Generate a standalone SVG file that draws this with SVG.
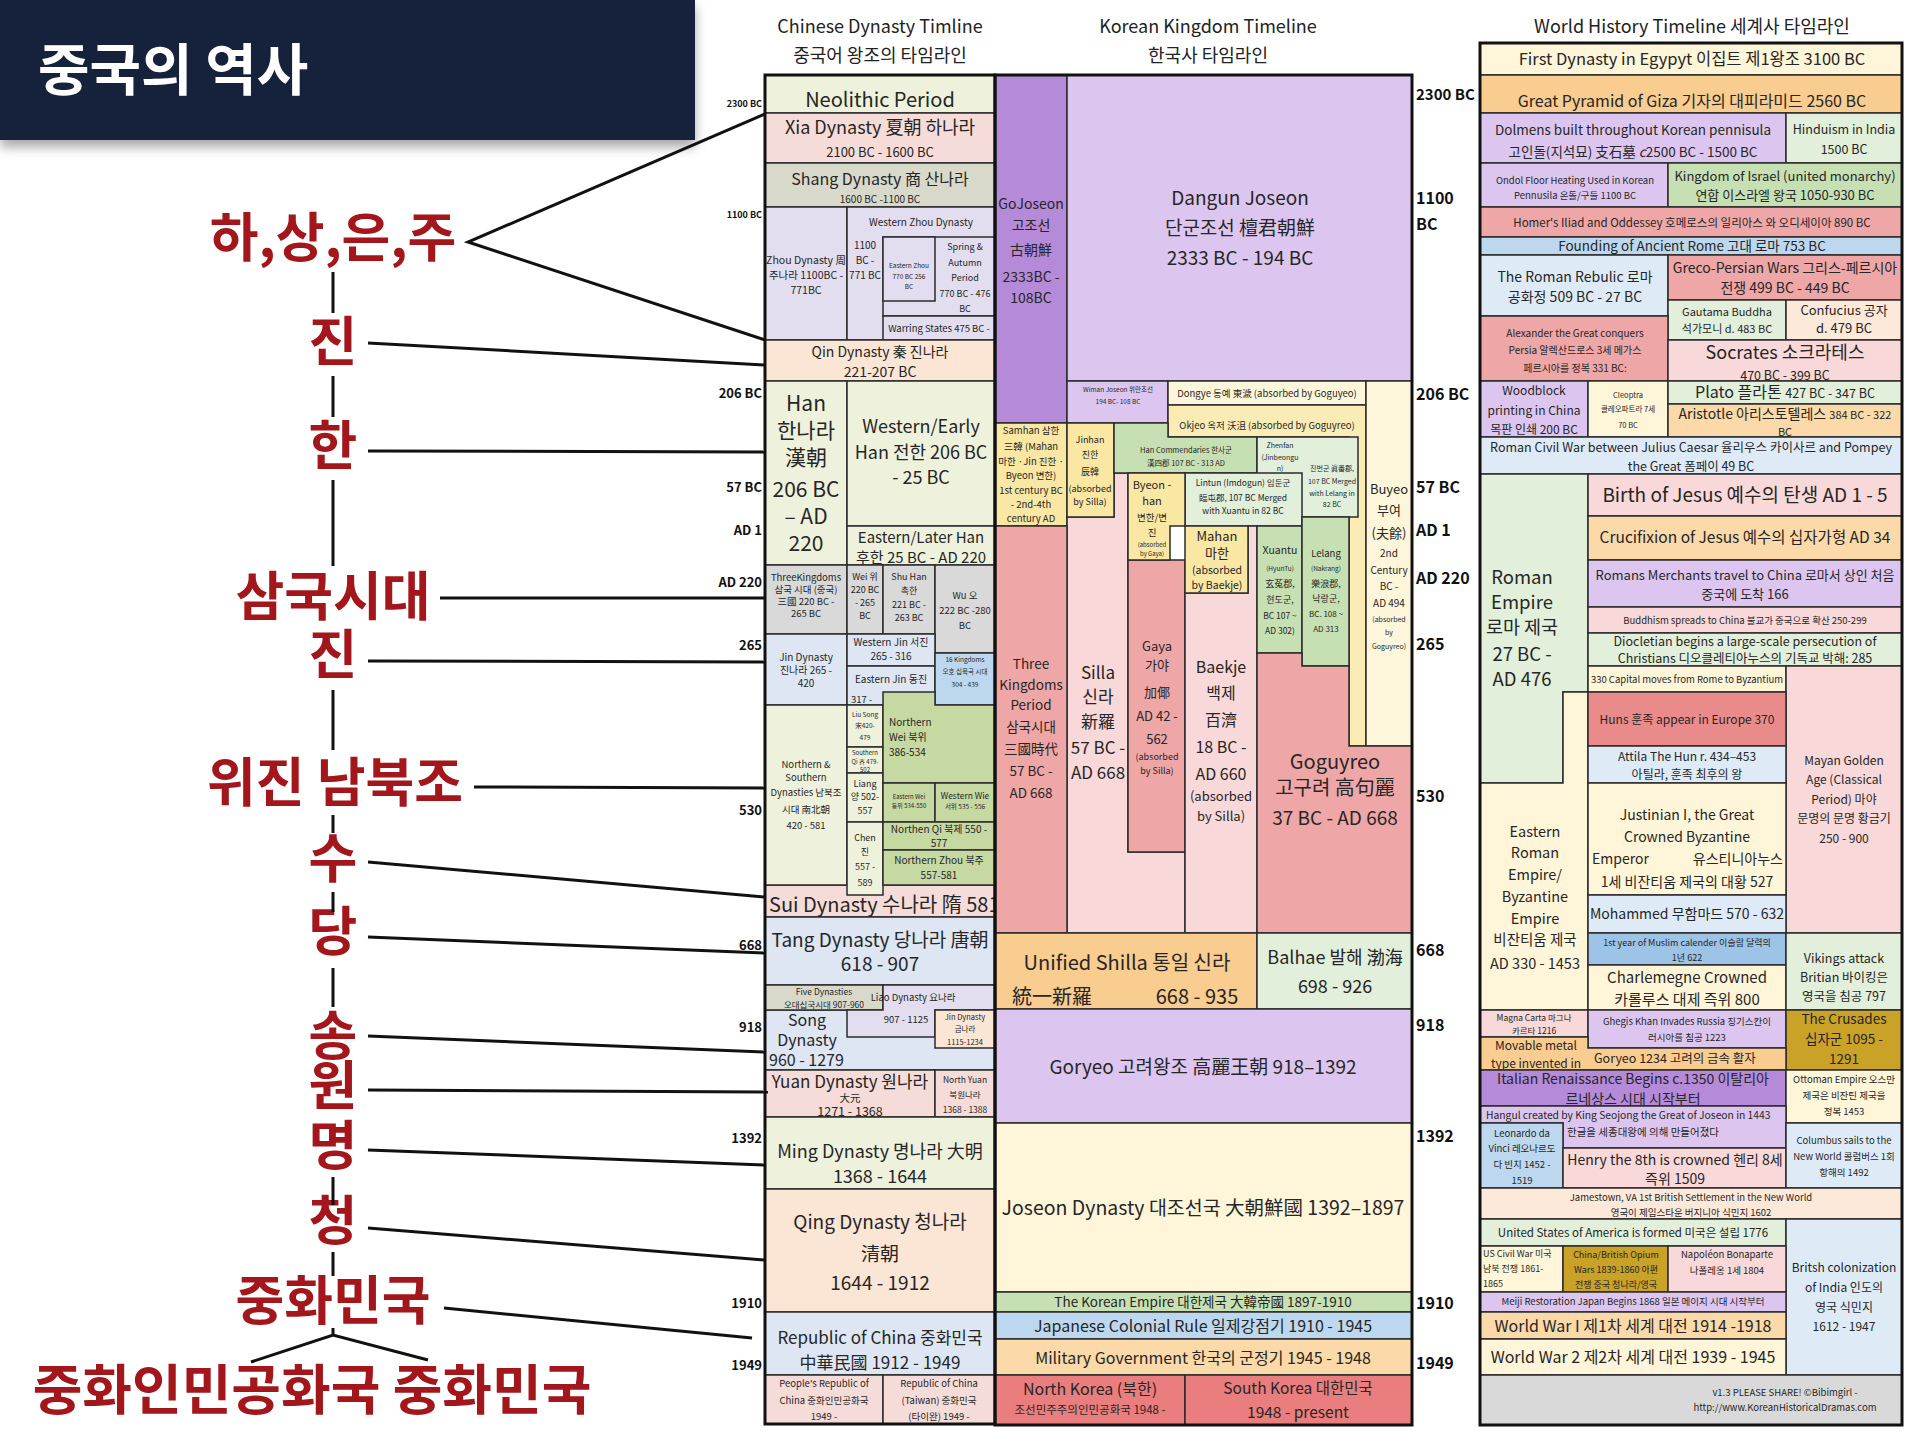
<svg xmlns="http://www.w3.org/2000/svg" width="1920" height="1442" viewBox="0 0 1920 1442">
<defs>
<filter id="sh" x="-5%" y="-20%" width="110%" height="160%"><feDropShadow dx="0" dy="7" stdDeviation="6" flood-color="#000" flood-opacity="0.35"/></filter>
</defs>
<style>
text{font-family:"Noto Sans CJK KR","Noto Sans",sans-serif;text-anchor:middle;fill:#262626}
.s{stroke:#2b2b2b;stroke-width:1.5}
.o{fill:none;stroke:#111;stroke-width:3}
.lab{font-weight:700;font-size:53px;fill:#a3161b}
.yl{font-weight:700;font-size:13px;fill:#111;text-anchor:end}
.yr{font-weight:700;font-size:16px;fill:#111;text-anchor:start}
.hd{font-size:18px;fill:#222}
.cn line,.cn polyline{stroke:#111;stroke-width:3;fill:none}
.st{text-anchor:start}
.en{text-anchor:end}
.gn{fill:#eef2dc}.pk{fill:#f5dcd8}.gb{fill:#d9d9cb}.lv{fill:#e2def0}.pc{fill:#fbe5d5}
.gy{fill:#d9d9d9}.lb{fill:#dde6f2}.bl{fill:#bdd7ee}.ol{fill:#c6d9a3}.pu{fill:#b48ad9}
.lp{fill:#dcc6ef}.cr{fill:#fef6da}.ye{fill:#f9e7a3}.g2{fill:#c6e0b4}.g3{fill:#e2efda}
.sa{fill:#eea6a6}.pp{fill:#f8d8d8}.or{fill:#f9cc8f}.jo{fill:#fff5d8}.mi{fill:#fbd9a8}
.rd{fill:#ea7d7d}.sk{fill:#deebf7}.pe{fill:#fde9d9}.go{fill:#c9a227}.mb{fill:#9dc3e6}.hu{fill:#ea8b8b}.ye2{fill:#fbecb5}
</style>
<rect width="1920" height="1442" fill="#fff"/>

<!-- Title -->
<g id="title">
<rect x="0" y="0" width="695" height="140" fill="#17223a" filter="url(#sh)"/>
<text x="38" y="90" class="st" style="font-size:56px;font-weight:700;fill:#fff">중국의 역사</text>
</g>

<!-- Left labels -->
<g id="labels">
<text class="lab" x="333" y="257">하,상,은,주</text>
<text class="lab" x="333" y="361">진</text>
<text class="lab" x="333" y="465">한</text>
<text class="lab" x="333" y="616">삼국시대</text>
<text class="lab" x="333" y="674">진</text>
<text class="lab" x="335" y="802">위진 남북조</text>
<text class="lab" x="333" y="878">수</text>
<text class="lab" x="333" y="951">당</text>
<text class="lab" x="333" y="1055">송</text>
<text class="lab" x="333" y="1105">원</text>
<text class="lab" x="333" y="1165">명</text>
<text class="lab" x="333" y="1240">청</text>
<text class="lab" x="333" y="1320">중화민국</text>
<text class="lab" x="312" y="1410" style="font-size:54px">중화인민공화국 중화민국</text>
</g>

<!-- Column headers -->
<g id="headers">
<text class="hd" x="880" y="33">Chinese Dynasty Timline</text>
<text class="hd" x="880" y="62">중국어 왕조의 타임라인</text>
<text class="hd" x="1208" y="33">Korean Kingdom Timeline</text>
<text class="hd" x="1208" y="62">한국사 타임라인</text>
<text class="hd" x="1692" y="33">World History Timeline 세계사 타임라인</text>
</g>

<!-- Year labels -->
<g id="years-left">
<text class="yl" x="762" y="107" style="font-size:9px">2300 BC</text>
<text class="yl" x="762" y="218" style="font-size:9px">1100 BC</text>
<text class="yl" x="762" y="398">206 BC</text>
<text class="yl" x="762" y="492">57 BC</text>
<text class="yl" x="762" y="535">AD 1</text>
<text class="yl" x="762" y="587">AD 220</text>
<text class="yl" x="762" y="650">265</text>
<text class="yl" x="762" y="815">530</text>
<text class="yl" x="762" y="950">668</text>
<text class="yl" x="762" y="1032">918</text>
<text class="yl" x="762" y="1143">1392</text>
<text class="yl" x="762" y="1308">1910</text>
<text class="yl" x="762" y="1370">1949</text>
</g>
<g id="years-right">
<text class="yr" x="1416" y="100" style="font-size:15px">2300 BC</text>
<text class="yr" x="1416" y="204">1100</text>
<text class="yr" x="1416" y="230">BC</text>
<text class="yr" x="1416" y="400">206 BC</text>
<text class="yr" x="1416" y="493">57 BC</text>
<text class="yr" x="1416" y="536">AD 1</text>
<text class="yr" x="1416" y="584">AD 220</text>
<text class="yr" x="1416" y="650">265</text>
<text class="yr" x="1416" y="802">530</text>
<text class="yr" x="1416" y="956">668</text>
<text class="yr" x="1416" y="1031">918</text>
<text class="yr" x="1416" y="1142">1392</text>
<text class="yr" x="1416" y="1309">1910</text>
<text class="yr" x="1416" y="1369">1949</text>
</g>

<!-- ============ CHINESE COLUMN ============ -->
<g id="neolithic"><rect class="s gn" x="765" y="75" width="230" height="38"/><text x="880" y="107" font-size="20">Neolithic Period</text></g>
<g id="xia"><rect class="s pk" x="765" y="113" width="230" height="50"/><text x="880" y="134" font-size="18">Xia Dynasty 夏朝 하나라</text><text x="880" y="157" font-size="13">2100 BC - 1600 BC</text></g>
<g id="shang"><rect class="s gb" x="765" y="163" width="230" height="44"/><text x="880" y="185" font-size="16">Shang Dynasty 商 산나라</text><text x="880" y="203" font-size="10">1600 BC -1100 BC</text></g>
<g id="zhou">
<rect class="s lv" x="765" y="207" width="82" height="133"/>
<rect class="s lv" x="847" y="207" width="148" height="133"/>
<rect class="s lv" x="883" y="237" width="112" height="79"/>
<rect class="s lv" x="883" y="237" width="52" height="64"/>
<rect class="s lv" x="883" y="316" width="112" height="24"/>
<g font-size="10.5"><text x="806" y="264">Zhou Dynasty 周</text><text x="806" y="279">주나라 1100BC -</text><text x="806" y="294">771BC</text></g>
<text x="921" y="226" font-size="10">Western Zhou Dynasty</text>
<g font-size="10"><text x="865" y="249">1100</text><text x="865" y="264">BC -</text><text x="865" y="279">771 BC</text></g>
<g font-size="6.5"><text x="909" y="268">Eastern Zhou</text><text x="909" y="279">770 BC 256</text><text x="909" y="289">BC</text></g>
<g font-size="9"><text x="965" y="250">Spring &amp;</text><text x="965" y="266">Autumn</text><text x="965" y="281">Period</text><text x="965" y="297">770 BC - 476</text><text x="965" y="312">BC</text></g>
<text x="939" y="332" font-size="9.5">Warring States  475 BC -</text>
</g>
<g id="qin"><rect class="s pc" x="765" y="340" width="230" height="41"/><text x="880" y="357" font-size="14">Qin Dynasty 秦 진나라</text><text x="880" y="377" font-size="14">221-207 BC</text></g>
<g id="han">
<rect class="s gn" x="765" y="381" width="82" height="184"/>
<rect class="s gn" x="847" y="381" width="148" height="145"/>
<rect class="s gn" x="847" y="526" width="148" height="39"/>
<g font-size="21"><text x="806" y="411">Han</text><text x="806" y="438">한나라</text><text x="806" y="465">漢朝</text><text x="806" y="497">206 BC</text><text x="806" y="524">– AD</text><text x="806" y="551">220</text></g>
<g font-size="18"><text x="921" y="433">Western/Early</text><text x="921" y="459">Han 전한 206 BC</text><text x="921" y="484">- 25 BC</text></g>
<g font-size="15"><text x="921" y="543">Eastern/Later Han</text><text x="921" y="563">후한 25 BC - AD 220</text></g>
</g>
<g id="three-kingdoms-cn">
<rect class="s gy" x="765" y="565" width="82" height="69"/>
<rect class="s gy" x="847" y="565" width="36" height="69"/>
<rect class="s gy" x="883" y="565" width="52" height="69"/>
<rect class="s gy" x="935" y="565" width="60" height="88"/>
<g font-size="9.5"><text x="806" y="581">ThreeKingdoms</text><text x="806" y="593">삼국 시대 (중국)</text><text x="806" y="605">三國  220 BC -</text><text x="806" y="617">265 BC</text></g>
<g font-size="9"><text x="865" y="580">Wei 위</text><text x="865" y="593">220 BC</text><text x="865" y="606">- 265</text><text x="865" y="619">BC</text></g>
<g font-size="9"><text x="909" y="580">Shu Han</text><text x="909" y="594">촉한</text><text x="909" y="608">221 BC -</text><text x="909" y="621">263 BC</text></g>
<g font-size="9.5"><text x="965" y="599">Wu 오</text><text x="965" y="614">222 BC -280</text><text x="965" y="629">BC</text></g>
</g>
<g id="jin-cn">
<rect class="s lb" x="765" y="634" width="82" height="71"/>
<rect class="s lb" x="847" y="634" width="88" height="32"/>
<rect class="s lb" x="847" y="666" width="88" height="39"/>
<rect class="s bl" x="935" y="653" width="60" height="52"/>
<g font-size="10"><text x="806" y="661">Jin Dynasty</text><text x="806" y="674">진나라 265 -</text><text x="806" y="687">420</text></g>
<g font-size="10"><text x="891" y="646">Western Jin 서진</text><text x="891" y="660">265 - 316</text></g>
<text x="891" y="683" font-size="10">Eastern Jin 동진</text>
<text x="851" y="703" font-size="9.5" class="st">317 -</text>
<g font-size="6.5"><text x="965" y="662">16 Kingdoms</text><text x="965" y="674">오호 십육국 시대</text><text x="965" y="687">304 - 439</text></g>
</g>
<g id="sui"><rect class="s pk" x="765" y="885" width="230" height="32"/><text x="769" y="912" font-size="20" class="st">Sui Dynasty 수나라 隋 581 -</text></g>
<g id="northern-southern">
<rect class="s gn" x="765" y="705" width="82" height="180"/>
<g font-size="9.5"><text x="806" y="768">Northern &amp;</text><text x="806" y="781">Southern</text><text x="806" y="796">Dynasties 남북조</text><text x="806" y="813">시대 南北朝</text><text x="806" y="829">420 - 581</text></g>
<rect class="s gn" x="847" y="705" width="36" height="42"/>
<g font-size="6.5"><text x="865" y="717">Liu Song</text><text x="865" y="728">宋420-</text><text x="865" y="740">479</text></g>
<rect class="s gn" x="847" y="747" width="36" height="26"/>
<g font-size="6"><text x="865" y="755">Southern</text><text x="865" y="764">Qi 齐 479-</text><text x="865" y="772">502</text></g>
<rect class="s gn" x="847" y="773" width="36" height="49"/>
<g font-size="9"><text x="865" y="787">Liang</text><text x="865" y="800">양 502-</text><text x="865" y="814">557</text></g>
<rect class="s gn" x="847" y="822" width="36" height="73"/>
<g font-size="9"><text x="865" y="841">Chen</text><text x="865" y="855">진</text><text x="865" y="870">557 -</text><text x="865" y="886">589</text></g>
<polygon class="s ol" points="883,692 935,692 935,705 995,705 995,783 883,783"/>
<g font-size="10"><text x="889" y="726" class="st">Northern</text><text x="889" y="741" class="st">Wei  북위</text><text x="889" y="756" class="st">386-534</text></g>
<rect class="s ol" x="883" y="783" width="52" height="39"/>
<g font-size="6"><text x="909" y="799">Eastern Wei</text><text x="909" y="808">동위 534-550</text></g>
<rect class="s ol" x="935" y="783" width="60" height="39"/>
<text x="965" y="799" font-size="8.5">Western Wie</text><text x="965" y="809" font-size="6.5">서위 535 - 556</text>
<rect class="s ol" x="883" y="822" width="112" height="28"/>
<g font-size="10"><text x="939" y="833">Northen Qi 북제 550 -</text><text x="939" y="847">577</text></g>
<rect class="s ol" x="883" y="850" width="112" height="35"/>
<g font-size="10"><text x="939" y="864">Northern Zhou  북주</text><text x="939" y="879">557-581</text></g>
</g>
<g id="tang"><rect class="s lb" x="765" y="917" width="230" height="68"/><text x="880" y="947" font-size="19">Tang Dynasty 당나라 唐朝</text><text x="880" y="971" font-size="19">618 - 907</text></g>
<g id="song"><rect class="s lb" x="765" y="1010" width="230" height="60"/><text x="807" y="1026" font-size="16">Song</text><text x="807" y="1046" font-size="16">Dynasty</text><text x="769" y="1066" font-size="16" class="st">960 - 1279</text></g>
<g id="five-dynasties"><rect class="s gb" x="765" y="985" width="118" height="25"/><text x="824" y="995" font-size="8.5">Five Dynasties</text><text x="824" y="1008" font-size="8.5">오대십국시대  907-960</text></g>
<g id="liao"><polygon class="s lv" points="883,985 995,985 995,1010 935,1010 935,1037 847,1037 847,1010 883,1010"/><text x="913" y="1001" font-size="9.5">Liao Dynasty 요나라</text><text x="906" y="1023" font-size="9.5">907 - 1125</text></g>
<g id="jin-jurchen"><rect class="s pc" x="935" y="1010" width="60" height="38"/><g font-size="7.5"><text x="965" y="1020">Jin Dynasty</text><text x="965" y="1032">금나라</text><text x="965" y="1045">1115-1234</text></g></g>
<g id="yuan">
<rect class="s pk" x="765" y="1070" width="170" height="47"/>
<text x="850" y="1088" font-size="17">Yuan Dynasty 원나라</text><text x="850" y="1102" font-size="10.5">大元</text><text x="850" y="1116" font-size="12.5">1271 - 1368</text>
<rect class="s pk" x="935" y="1070" width="60" height="47"/>
<g font-size="8.5"><text x="965" y="1083">North Yuan</text><text x="965" y="1098">북원나라</text><text x="965" y="1113">1368 - 1388</text></g>
</g>
<g id="ming"><rect class="s gn" x="765" y="1117" width="230" height="72"/><text x="880" y="1158" font-size="18">Ming Dynasty 명나라 大明</text><text x="880" y="1183" font-size="18">1368 - 1644</text></g>
<g id="qing"><rect class="s pc" x="765" y="1189" width="230" height="123"/><text x="880" y="1229" font-size="19">Qing Dynasty 청나라</text><text x="880" y="1261" font-size="19">清朝</text><text x="880" y="1290" font-size="19">1644 - 1912</text></g>
<g id="roc"><rect class="s lb" x="765" y="1312" width="230" height="63"/><text x="880" y="1344" font-size="17">Republic of China 중화민국</text><text x="880" y="1369" font-size="17">中華民國    1912 - 1949</text></g>
<g id="prc"><rect class="s pk" x="765" y="1375" width="118" height="49"/><g font-size="9.5"><text x="824" y="1387">People's Republic of</text><text x="824" y="1404">China 중화인민공화국</text><text x="824" y="1420">1949 -</text></g></g>
<g id="taiwan"><rect class="s pk" x="883" y="1375" width="112" height="49"/><g font-size="9.5"><text x="939" y="1387">Republic of China</text><text x="939" y="1404">(Taiwan) 중화민국</text><text x="939" y="1420">(타이완) 1949 -</text></g></g>

<!-- ============ KOREAN COLUMN ============ -->
<g id="gojoseon"><rect class="s pu" x="995" y="75" width="72" height="348"/><g font-size="14"><text x="1031" y="209">GoJoseon</text><text x="1031" y="230">고조선</text><text x="1031" y="255">古朝鮮</text><text x="1031" y="282">2333BC -</text><text x="1031" y="303">108BC</text></g></g>
<g id="dangun"><rect class="s lp" x="1067" y="75" width="345" height="306"/><g font-size="19"><text x="1240" y="205">Dangun Joseon</text><text x="1240" y="235">단군조선 檀君朝鮮</text><text x="1240" y="265">2333 BC - 194 BC</text></g></g>
<g id="wiman"><rect class="s lp" x="1067" y="381" width="101" height="42"/><g font-size="6.5"><text x="1118" y="392">Wiman Joseon 위만조선</text><text x="1118" y="404">194 BC- 108 BC</text></g></g>
<g id="dongye"><rect class="s cr" x="1168" y="381" width="198" height="24"/><text x="1267" y="397" font-size="9.5">Dongye 동예 東濊 (absorbed by Goguyeo)</text></g>
<g id="okjeo"><polygon class="s ye2" points="1168,405 1366,405 1366,746 1349,746 1349,437 1168,437"/><text x="1267" y="429" font-size="9.5">Okjeo 옥저 沃沮 (absorbed by Goguyreo)</text></g>
<g id="buyeo"><rect class="s cr" x="1366" y="381" width="46" height="365"/>
<g font-size="13"><text x="1389" y="494">Buyeo</text><text x="1389" y="515">부여</text><text x="1389" y="538">(夫餘)</text></g>
<g font-size="10"><text x="1389" y="557">2nd</text><text x="1389" y="574">Century</text><text x="1389" y="590">BC -</text><text x="1389" y="607">AD 494</text></g>
<g font-size="7"><text x="1389" y="622">(absorbed</text><text x="1389" y="635">by</text><text x="1389" y="649">Goguyreo)</text></g></g>
<g id="samhan"><rect class="s ye" x="995" y="423" width="72" height="103"/><g font-size="9.5"><text x="1031" y="434">Samhan 삼한</text><text x="1031" y="450">三韓 (Mahan</text><text x="1031" y="465">마한 ·Jin 진한 ·</text><text x="1031" y="479">Byeon 변한)</text><text x="1031" y="494">1st century BC</text><text x="1031" y="508">- 2nd-4th</text><text x="1031" y="522">century AD</text></g></g>
<g id="silla"><polygon class="s pp" points="1067,517 1114,517 1114,473 1128,473 1128,852 1185,852 1185,933 1067,933"/><g font-size="17"><text x="1098" y="679">Silla</text><text x="1098" y="703">신라</text><text x="1098" y="728">新羅</text><text x="1098" y="754">57 BC -</text><text x="1098" y="779">AD 668</text></g></g>
<g id="jinhan"><rect class="s ye" x="1067" y="423" width="47" height="94"/><g font-size="9"><text x="1090" y="443">Jinhan</text><text x="1090" y="458">진한</text><text x="1090" y="475">辰韓</text><text x="1090" y="492">(absorbed</text><text x="1090" y="505">by Silla)</text></g></g>
<g id="han-commanderies"><polygon class="s g2" points="1114,423 1168,423 1168,437 1257,437 1257,473 1114,473"/><g font-size="7.5"><text x="1186" y="453">Han Commendaries 한사군</text><text x="1186" y="466">漢四郡 107 BC - 313 AD</text></g></g>
<g id="zhenfan"><rect class="s g3" x="1257" y="437" width="101" height="80"/><g font-size="7"><text x="1280" y="448">Zhenfan</text><text x="1280" y="460">(Jinbeongu</text><text x="1280" y="471">n)</text><text x="1332" y="471">진번군 眞番郡,</text><text x="1332" y="484">107 BC Merged</text><text x="1332" y="496">with Lelang in</text><text x="1332" y="507">82 BC</text></g></g>
<g id="lintun"><rect class="s g3" x="1185" y="473" width="117" height="53"/><g font-size="8.5"><text x="1243" y="486">Lintun (Imdogun) 임둔군</text><text x="1243" y="501">臨屯郡, 107 BC  Merged</text><text x="1243" y="514">with Xuantu in 82 BC</text></g></g>
<g id="three-kingdoms-kr"><rect class="s sa" x="995" y="526" width="72" height="407"/><g font-size="13.5"><text x="1031" y="669">Three</text><text x="1031" y="690">Kingdoms</text><text x="1031" y="710">Period</text><text x="1031" y="732">삼국시대</text><text x="1031" y="754">三國時代</text><text x="1031" y="776">57 BC -</text><text x="1031" y="798">AD 668</text></g></g>
<g id="gaya"><rect class="s sa" x="1128" y="560" width="57" height="292"/><g font-size="13"><text x="1157" y="651">Gaya</text><text x="1157" y="670">가야</text><text x="1157" y="697">加倻</text><text x="1157" y="721">AD 42 -</text><text x="1157" y="744">562</text></g><g font-size="9"><text x="1157" y="760">(absorbed</text><text x="1157" y="774">by Silla)</text></g></g>
<g id="byeonhan"><polygon class="s ye" points="1128,473 1185,473 1185,526 1170,526 1170,560 1128,560"/><g font-size="11"><text x="1152" y="489">Byeon -</text><text x="1152" y="505">han</text></g><g font-size="9.5"><text x="1152" y="521">변한/변</text><text x="1152" y="536">진</text></g><g font-size="6"><text x="1152" y="547">(absorbed</text><text x="1152" y="556">by Gaya)</text></g></g>
<g id="baekje"><polygon class="s pp" points="1185,593 1248,593 1248,526 1257,526 1257,933 1185,933"/><g font-size="16"><text x="1221" y="673">Baekje</text><text x="1221" y="699">백제</text><text x="1221" y="726">百濟</text><text x="1221" y="753">18 BC -</text><text x="1221" y="780">AD 660</text></g><g font-size="13"><text x="1221" y="801">(absorbed</text><text x="1221" y="821">by Silla)</text></g></g>
<g id="mahan"><rect class="s ye" x="1185" y="526" width="63" height="67"/><g font-size="13"><text x="1217" y="541">Mahan</text><text x="1217" y="558">마한</text></g><g font-size="10.5"><text x="1217" y="574">(absorbed</text><text x="1217" y="589">by Baekje)</text></g></g>
<g id="xuantu"><rect class="s g2" x="1257" y="526" width="45" height="127"/><text x="1280" y="554" font-size="10.5">Xuantu</text><text x="1280" y="571" font-size="6.5">(HyunTu)</text><g font-size="9"><text x="1280" y="587">玄菟郡,</text><text x="1280" y="603">현도군,</text></g><g font-size="8.5"><text x="1280" y="619">BC 107 ~</text><text x="1280" y="634">AD 302)</text></g></g>
<g id="lelang"><rect class="s g2" x="1302" y="517" width="47" height="149"/><text x="1326" y="557" font-size="9.5">Lelang</text><text x="1326" y="571" font-size="6.5">(Nakrang)</text><g font-size="9"><text x="1326" y="587">樂浪郡,</text><text x="1326" y="602">낙랑군,</text></g><g font-size="8"><text x="1326" y="617">BC. 108 ~</text><text x="1326" y="632">AD 313</text></g></g>
<g id="goguryeo"><polygon class="s sa" points="1257,653 1302,653 1302,666 1349,666 1349,746 1412,746 1412,933 1257,933"/><g font-size="20"><text x="1335" y="769">Goguyreo</text><text x="1335" y="795">고구려  高句麗</text></g><text x="1335" y="825" font-size="19">37 BC - AD 668</text></g>
<g id="unified-silla"><rect class="s or" x="995" y="933" width="262" height="76"/><text x="1127" y="970" font-size="20">Unified Shilla 통일 신라</text><text x="1012" y="1004" font-size="20" class="st">統一新羅</text><text x="1197" y="1004" font-size="20">668 - 935</text></g>
<g id="balhae"><rect class="s g3" x="1257" y="933" width="155" height="76"/><text x="1335" y="964" font-size="18">Balhae 발해  渤海</text><text x="1335" y="993" font-size="18">698 - 926</text></g>
<g id="goryeo"><rect class="s lp" x="995" y="1009" width="417" height="114"/><text x="1203" y="1074" font-size="19">Goryeo 고려왕조 高麗王朝 918–1392</text></g>
<g id="joseon"><rect class="s jo" x="995" y="1123" width="417" height="169"/><text x="1203" y="1215" font-size="19.5">Joseon Dynasty 대조선국 大朝鮮國 1392–1897</text></g>
<g id="korean-empire"><rect class="s g2" x="995" y="1292" width="417" height="20"/><text x="1203" y="1307" font-size="13.5">The Korean Empire 대한제국 大韓帝國 1897-1910</text></g>
<g id="japanese-rule"><rect class="s bl" x="995" y="1312" width="417" height="27"/><text x="1203" y="1332" font-size="16">Japanese Colonial Rule 일제강점기 1910 - 1945</text></g>
<g id="military-gov"><rect class="s mi" x="995" y="1339" width="417" height="36"/><text x="1203" y="1364" font-size="16">Military Government 한국의 군정기  1945 - 1948</text></g>
<g id="north-korea"><rect class="s rd" x="995" y="1375" width="190" height="50"/><text x="1090" y="1395" font-size="16">North Korea (북한)</text><text x="1090" y="1414" font-size="11.5">조선민주주의인민공화국   1948 -</text></g>
<g id="south-korea"><rect class="s rd" x="1185" y="1375" width="227" height="50"/><text x="1298" y="1394" font-size="15.5">South Korea 대한민국</text><text x="1298" y="1418" font-size="15.5">1948 - present</text></g>

<!-- ============ WORLD COLUMN ============ -->
<g id="egypt"><rect class="s jo" x="1480" y="43" width="422" height="32"/><text x="1692" y="65" font-size="16.5">First Dynasty in Egypyt 이집트 제1왕조 3100 BC</text></g>
<g id="pyramid"><rect class="s or" x="1480" y="75" width="422" height="38"/><text x="1692" y="107" font-size="16">Great Pyramid of Giza 기자의 대피라미드 2560 BC</text></g>
<g id="dolmens"><rect class="s lp" x="1480" y="113" width="306" height="50"/><text x="1633" y="135" font-size="13.5">Dolmens built throughout Korean pennisula</text><text x="1633" y="157" font-size="13.5">고인돌(지석묘) 支石墓 <tspan font-style="italic">c</tspan>2500 BC - 1500 BC</text></g>
<g id="hinduism"><rect class="s g3" x="1786" y="113" width="116" height="50"/><text x="1844" y="134" font-size="12.5">Hinduism in India</text><text x="1844" y="154" font-size="12.5">1500 BC</text></g>
<g id="ondol"><rect class="s lp" x="1480" y="163" width="188" height="44"/><text x="1575" y="184" font-size="9.5">Ondol Floor Heating Used in Korean</text><text x="1575" y="199" font-size="9.5">Pennusila 온돌/구들 1100 BC</text></g>
<g id="israel"><rect class="s g2" x="1668" y="163" width="234" height="44"/><text x="1785" y="181" font-size="13">Kingdom of Israel (united monarchy)</text><text x="1785" y="200" font-size="13">연합 이스라엘 왕국 1050-930 BC</text></g>
<g id="homer"><rect class="s sa" x="1480" y="207" width="422" height="30"/><text x="1692" y="227" font-size="11.5">Homer's Iliad and Oddessey 호메로스의 일리아스 와 오디세이아 890 BC</text></g>
<g id="rome-founding"><rect class="s bl" x="1480" y="237" width="422" height="18"/><text x="1692" y="251" font-size="13.5">Founding of Ancient Rome 고대 로마 753 BC</text></g>
<g id="roman-republic"><rect class="s sk" x="1480" y="255" width="188" height="61"/><text x="1575" y="282" font-size="14">The Roman Rebulic 로마</text><text x="1575" y="302" font-size="14">공화정 509 BC - 27 BC</text></g>
<g id="greco-persian"><rect class="s sa" x="1668" y="255" width="234" height="45"/><text x="1785" y="273" font-size="14">Greco-Persian Wars 그리스-페르시아</text><text x="1785" y="293" font-size="14">전쟁 499 BC - 449 BC</text></g>
<g id="buddha"><rect class="s g3" x="1668" y="300" width="118" height="40"/><text x="1727" y="316" font-size="11">Gautama Buddha</text><text x="1727" y="333" font-size="11">석가모니 d. 483 BC</text></g>
<g id="confucius"><rect class="s pe" x="1786" y="300" width="116" height="40"/><text x="1844" y="315" font-size="13">Confucius 공자</text><text x="1844" y="333" font-size="13">d. 479 BC</text></g>
<g id="alexander"><rect class="s sa" x="1480" y="316" width="188" height="65"/><g font-size="10"><text x="1575" y="337">Alexander the Great conquers</text><text x="1575" y="354">Persia 알렉산드로스 3세 메가스</text><text x="1575" y="372">페르시아를 정복 331 BC:</text></g></g>
<g id="socrates"><rect class="s pp" x="1668" y="340" width="234" height="41"/><text x="1785" y="359" font-size="18">Socrates 소크라테스</text><text x="1785" y="380" font-size="12.5">470 BC - 399 BC</text></g>
<g id="woodblock"><rect class="s lp" x="1480" y="381" width="108" height="56"/><g font-size="12"><text x="1534" y="395">Woodblock</text><text x="1534" y="415">printing in China</text><text x="1534" y="434">목판 인쇄 200 BC</text></g></g>
<g id="cleopatra"><rect class="s jo" x="1588" y="381" width="80" height="56"/><g font-size="7.5"><text x="1628" y="398">Cleoptra</text><text x="1628" y="412">클레오파트라 7세</text><text x="1628" y="428">70 BC</text></g></g>
<g id="plato"><rect class="s g3" x="1668" y="381" width="234" height="23"/><text x="1785" y="398" font-size="16">Plato 플라톤 <tspan font-size="12.5">427 BC - 347 BC</tspan></text></g>
<g id="aristotle"><rect class="s mi" x="1668" y="404" width="234" height="33"/><text x="1785" y="419" font-size="14">Aristotle 아리스토텔레스 <tspan font-size="11">384 BC - 322</tspan></text><text x="1785" y="436" font-size="11">BC</text></g>
<g id="roman-civil-war"><rect class="s sk" x="1480" y="437" width="422" height="37"/><text x="1691" y="452" font-size="12.5">Roman Civil War between Julius Caesar 율리우스 카이사르 and Pompey</text><text x="1691" y="471" font-size="12.5">the Great 폼페이 49 BC</text></g>
<g id="roman-empire"><polygon class="s g3" points="1480,474 1588,474 1588,692 1563,692 1563,783 1480,783"/><g font-size="18.5"><text x="1522" y="584">Roman</text><text x="1522" y="609">Empire</text><text x="1522" y="634">로마 제국</text><text x="1522" y="661">27 BC -</text><text x="1522" y="686">AD 476</text></g></g>
<g id="eastern-roman"><polygon class="s jo" points="1563,692 1588,692 1588,1010 1480,1010 1480,783 1563,783"/><g font-size="14.5"><text x="1535" y="837">Eastern</text><text x="1535" y="858">Roman</text><text x="1535" y="880">Empire/</text><text x="1535" y="902">Byzantine</text><text x="1535" y="924">Empire</text><text x="1535" y="945">비잔티움 제국</text><text x="1535" y="969">AD 330 - 1453</text></g></g>
<g id="birth-jesus"><rect class="s pp" x="1588" y="474" width="314" height="42"/><text x="1745" y="502" font-size="19">Birth of Jesus 예수의 탄생 AD 1 - 5</text></g>
<g id="crucifixion"><rect class="s mi" x="1588" y="516" width="314" height="44"/><text x="1745" y="543" font-size="15.5">Crucifixion of Jesus 예수의 십자가형  AD 34</text></g>
<g id="roman-merchants"><rect class="s lp" x="1588" y="560" width="314" height="47"/><text x="1745" y="580" font-size="13">Romans Merchants travel to China 로마서 상인 처음</text><text x="1745" y="599" font-size="13">중국에 도착 166</text></g>
<g id="buddhism"><rect class="s pp" x="1588" y="607" width="314" height="26"/><text x="1745" y="624" font-size="9.5">Buddhism spreads to China 불교가 중국으로 확산 250-299</text></g>
<g id="diocletian"><rect class="s g3" x="1588" y="633" width="314" height="33"/><text x="1745" y="646" font-size="12.5">Diocletian begins a large-scale persecution of</text><text x="1745" y="663" font-size="12.5">Christians 디오클레티아누스의 기독교 박해: 285</text></g>
<g id="capital"><rect class="s jo" x="1588" y="666" width="198" height="26"/><text x="1687" y="683" font-size="9.5">330 Capital moves from Rome to Byzantium</text></g>
<g id="mayan"><rect class="s pp" x="1786" y="666" width="116" height="267"/><g font-size="12"><text x="1844" y="765">Mayan Golden</text><text x="1844" y="784">Age (Classical</text><text x="1844" y="804">Period) 마야</text><text x="1844" y="823">문명의 문명 황금기</text><text x="1844" y="843">250 - 900</text></g></g>
<g id="huns"><rect class="s hu" x="1588" y="692" width="198" height="54"/><text x="1687" y="724" font-size="12">Huns 훈족 appear in Europe 370</text></g>
<g id="attila"><rect class="s sk" x="1588" y="746" width="198" height="37"/><text x="1687" y="761" font-size="12">Attila The Hun r. 434–453</text><text x="1687" y="779" font-size="12">아틸라, 훈족 최후의 왕</text></g>
<g id="justinian"><rect class="s jo" x="1588" y="783" width="198" height="112"/><g font-size="14"><text x="1687" y="820">Justinian I, the Great</text><text x="1687" y="842">Crowned Byzantine</text><text x="1592" y="864" class="st">Emperor</text><text x="1783" y="864" class="en">유스티니아누스</text><text x="1687" y="887">1세 비잔티움 제국의 대황 527</text></g></g>
<g id="mohammed"><rect class="s sk" x="1588" y="895" width="198" height="38"/><text x="1687" y="919" font-size="14">Mohammed 무함마드 570 - 632</text></g>
<g id="muslim-calendar"><rect class="s mb" x="1588" y="933" width="198" height="32"/><text x="1687" y="946" font-size="9">1st year of Muslim calender  이슬람 달력의</text><text x="1687" y="961" font-size="9">1년  622</text></g>
<g id="charlemagne"><rect class="s jo" x="1588" y="965" width="198" height="45"/><text x="1687" y="983" font-size="15">Charlemegne Crowned</text><text x="1687" y="1005" font-size="15">카롤루스 대제 즉위  800</text></g>
<g id="vikings"><rect class="s g3" x="1786" y="933" width="116" height="77"/><g font-size="12.5"><text x="1844" y="963">Vikings attack</text><text x="1844" y="982">Britian 바이킹은</text><text x="1844" y="1001">영국을 침공 797</text></g></g>
<g id="magna-carta"><rect class="s pp" x="1480" y="1010" width="108" height="27"/><text x="1534" y="1021" font-size="8.5">Magna Carta 마그나</text><text x="1534" y="1034" font-size="8.5">카르타 1216</text></g>
<g id="genghis"><rect class="s lp" x="1588" y="1010" width="198" height="38"/><text x="1687" y="1025" font-size="9.5">Ghegis Khan Invades Russia 징기스칸이</text><text x="1687" y="1041" font-size="9.5">러시아를 침공 1223</text></g>
<g id="crusades"><rect class="s go" x="1786" y="1010" width="116" height="60"/><g font-size="13.5"><text x="1844" y="1024">The Crusades</text><text x="1844" y="1044">십자군 1095 -</text><text x="1844" y="1064">1291</text></g></g>
<g id="movable-type"><polygon class="s or" points="1480,1037 1588,1037 1588,1048 1786,1048 1786,1070 1480,1070"/><g font-size="12"><text x="1536" y="1050">Movable metal</text><text x="1536" y="1068">type invented in</text></g><text x="1594" y="1063" class="st" font-size="12.5">Goryeo 1234  고려의 금속 활자</text></g>
<g id="renaissance"><rect class="s pu" x="1480" y="1070" width="306" height="36"/><text x="1633" y="1084" font-size="14">Italian Renaissance Begins c.1350 이탈리아</text><text x="1633" y="1104" font-size="14">르네상스 시대 시작부터</text></g>
<g id="ottoman"><rect class="s jo" x="1786" y="1070" width="116" height="53"/><g font-size="9.5"><text x="1844" y="1083">Ottoman Empire 오스만</text><text x="1844" y="1099">제국은 비잔틴 제국을</text><text x="1844" y="1115">정복 1453</text></g></g>
<g id="hangul"><polygon class="s lp" points="1480,1106 1786,1106 1786,1148 1563,1148 1563,1123 1480,1123"/><text x="1486" y="1119" font-size="10.3" class="st">Hangul created  by King Seojong the Great of Joseon in 1443</text><text x="1567" y="1136" font-size="10.5" class="st">한글을 세종대왕에 의해 만들어졌다</text></g>
<g id="leonardo"><rect class="s bl" x="1480" y="1123" width="83" height="65"/><g font-size="9.5"><text x="1522" y="1137">Leonardo da</text><text x="1522" y="1152">Vinci 레오나르도</text><text x="1522" y="1168">다 빈치 1452 -</text><text x="1522" y="1184">1519</text></g></g>
<g id="henry"><rect class="s pp" x="1563" y="1148" width="223" height="40"/><text x="1675" y="1165" font-size="14">Henry the 8th is crowned 헨리 8세</text><text x="1675" y="1184" font-size="14">즉위 1509</text></g>
<g id="columbus"><rect class="s sk" x="1786" y="1123" width="116" height="65"/><g font-size="9.5"><text x="1844" y="1144">Columbus sails to the</text><text x="1844" y="1160">New World 콜럼버스 1회</text><text x="1844" y="1176">항해의 1492</text></g></g>
<g id="jamestown"><rect class="s pe" x="1480" y="1188" width="422" height="31"/><text x="1691" y="1201" font-size="9.5">Jamestown, VA 1st British Settlement in the New World</text><text x="1691" y="1216" font-size="9.5">영국이  제임스타운 버지니아 식민지 1602</text></g>
<g id="usa"><rect class="s g3" x="1480" y="1219" width="306" height="27"/><text x="1633" y="1237" font-size="11.5">United States of America is formed 미국은 설립 1776</text></g>
<g id="india"><rect class="s sk" x="1786" y="1219" width="116" height="156"/><g font-size="12"><text x="1844" y="1272">Britsh colonization</text><text x="1844" y="1292">of India  인도의</text><text x="1844" y="1312">영국 식민지</text><text x="1844" y="1331">1612 - 1947</text></g></g>
<g id="us-civil-war"><rect class="s jo" x="1480" y="1246" width="83" height="46"/><g font-size="9"><text x="1483" y="1257" class="st">US Civil War 미국</text><text x="1483" y="1272" class="st">남북 전쟁 1861-</text><text x="1483" y="1287" class="st">1865</text></g></g>
<g id="opium"><rect class="s go" x="1563" y="1246" width="105" height="46"/><g font-size="9"><text x="1616" y="1258">China/British Opium</text><text x="1616" y="1273">Wars 1839-1860 아편</text><text x="1616" y="1288">전쟁 중국 청나라/영국</text></g></g>
<g id="napoleon"><rect class="s pp" x="1668" y="1246" width="118" height="46"/><g font-size="9.5"><text x="1727" y="1258">Napoléon Bonaparte</text><text x="1727" y="1274">나폴레옹 1세 1804</text></g></g>
<g id="meiji"><rect class="s lp" x="1480" y="1292" width="306" height="20"/><text x="1633" y="1305" font-size="9.5">Meiji Restoration Japan Begins 1868  일본 메이지 시대 시작부터</text></g>
<g id="ww1"><rect class="s mi" x="1480" y="1312" width="306" height="27"/><text x="1633" y="1332" font-size="16">World War I 제1차 세계 대전 1914 -1918</text></g>
<g id="ww2"><rect class="s jo" x="1480" y="1339" width="306" height="36"/><text x="1633" y="1363" font-size="16">World War 2 제2차 세계 대전 1939 - 1945</text></g>
<g id="credits"><rect class="s gy" x="1480" y="1375" width="422" height="50"/><text x="1785" y="1396" font-size="9.5">v1.3 PLEASE SHARE! ©Bibimgirl -</text><text x="1785" y="1411" font-size="9.5">http://www.KoreanHistoricalDramas.com</text></g>

<!-- Outer borders -->
<g id="borders">
<rect class="o" x="765" y="75" width="230" height="1349"/>
<rect class="o" x="995" y="75" width="417" height="1350"/>
<rect class="o" x="1480" y="43" width="422" height="1382"/>
</g>

<!-- Connectors -->
<g id="connectors" class="cn">
<line x1="333" y1="272" x2="333" y2="313"/>
<line x1="333" y1="376" x2="333" y2="417"/>
<line x1="333" y1="480" x2="333" y2="566"/>
<line x1="333" y1="690" x2="333" y2="750"/>
<line x1="333" y1="815" x2="333" y2="833"/>
<line x1="333" y1="892" x2="333" y2="912"/>
<line x1="333" y1="968" x2="333" y2="1007"/>
<line x1="333" y1="1177" x2="333" y2="1205"/>
<line x1="333" y1="1252" x2="333" y2="1276"/>
<line x1="333" y1="1328" x2="333" y2="1335"/>
<polyline points="251,1362 333,1335 428,1360"/>
<polyline points="765,114 468,242 765,340"/>
<line x1="368" y1="343" x2="765" y2="365"/>
<line x1="368" y1="451" x2="765" y2="452"/>
<line x1="440" y1="598" x2="765" y2="598"/>
<line x1="368" y1="661" x2="765" y2="662"/>
<line x1="474" y1="787" x2="765" y2="788"/>
<line x1="368" y1="862" x2="765" y2="897"/>
<line x1="368" y1="937" x2="765" y2="953"/>
<line x1="368" y1="1036" x2="765" y2="1052"/>
<line x1="368" y1="1090" x2="768" y2="1092"/>
<line x1="368" y1="1150" x2="765" y2="1165"/>
<line x1="368" y1="1228" x2="765" y2="1260"/>
<line x1="444" y1="1308" x2="752" y2="1338"/>
</g>
</svg>
